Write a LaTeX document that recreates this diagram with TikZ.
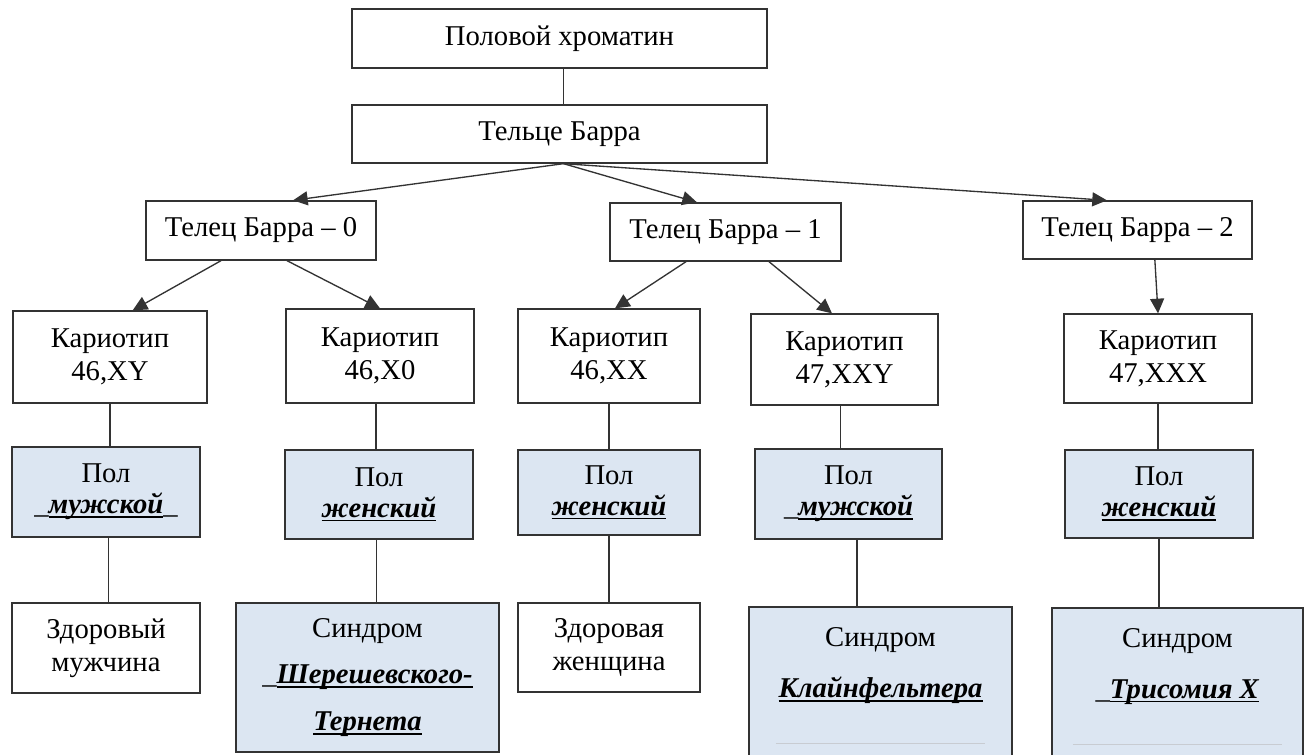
\documentclass[tikz,border=0pt]{standalone}
\usepackage{fontspec}
\setmainfont{Liberation Serif}
\usetikzlibrary{arrows.meta}
\definecolor{boxblue}{HTML}{DCE6F2}
\definecolor{edgec}{HTML}{333333}
\definecolor{blankline}{HTML}{C8CCD2}
\newcommand{\bi}[1]{\setbox0\hbox{\textbf{\textit{#1}}}\rlap{\raisebox{-3.2pt}{\rule{\wd0}{1.3pt}}}\box0}
\begin{document}
\begin{tikzpicture}[x=0.75pt,y=-0.75pt,
  box/.style={draw=edgec, line width=1pt, fill=white, align=center, inner sep=0pt,
    font=\fontsize{21.5}{25}\selectfont, text=black},
  bluebox/.style={box, fill=boxblue},
  sz/.style 2 args={minimum width=#1*0.75pt, minimum height=#2*0.75pt},
  conn/.style={draw=edgec, line width=1pt},
  arr/.style={conn, -{Triangle[length=11pt,width=10.5pt]}}
]
\useasboundingbox (0,0) rectangle (1308,754);
\fill[white] (0,0) rectangle (1308,754);

\node[box, sz={415}{59}] (A) at (559.5,38.5) {Половой хроматин};
\node[box, sz={415}{58}] (B) at (559.5,134) {Тельце Барра};

\node[box, sz={230}{59}] (T0) at (261,230.5) {Телец Барра – 0};
\node[box, sz={231}{58}] (T1) at (725.5,232) {Телец Барра – 1};
\node[box, sz={229}{58}] (T2) at (1137.5,230) {Телец Барра – 2};

\node[box, sz={194}{92}] (K1) at (110,357) {Кариотип\\46,XY};
\node[box, sz={188}{94}] (K2) at (380,356) {Кариотип\\46,X0};
\node[box, sz={182}{94}] (K3) at (609,356) {Кариотип\\46,XX};
\node[box, sz={187}{91}] (K4) at (844.5,359.5) {Кариотип\\47,XXY};
\node[box, sz={188}{89}] (K5) at (1158,358.5) {Кариотип\\47,XXX};

\node[bluebox, sz={188}{90}] (P1) at (106,492) {Пол\\[-2pt]\_\bi{мужской}\_};
\node[bluebox, sz={188}{89}] (P2) at (379,494.5) {Пол\\[-2pt]\bi{женский}};
\node[bluebox, sz={182}{85}] (P3) at (609,492.5) {Пол\\[-2pt]\bi{женский}};
\node[bluebox, sz={187}{90}] (P4) at (848.5,494) {Пол\\[-2pt]\_\bi{мужской}};
\node[bluebox, sz={188}{88}] (P5) at (1159,494) {Пол\\[-2pt]\bi{женский}};

\node[box, sz={188}{90}] (D1) at (106,648) {Здоровый\\мужчина};
\node[bluebox, sz={263}{149}] (D2) at (367.5,677.5) {Синдром\\[10pt]\_\bi{Шерешевского-}\\[10pt]\bi{Тернета}};
\node[box, sz={182}{89}] (D3) at (609,647.5) {Здоровая\\женщина};
\node[bluebox, sz={263}{158}] (D4) at (880.5,686) {Синдром\\[13pt]\bi{Клайнфельтера}\\[10pt]\textcolor{blankline}{\rule{157pt}{0.75pt}}};
\node[bluebox, sz={251}{157}] (D5) at (1177.5,686.5) {Синдром\\[13pt]\_\bi{Трисомия X}\\[10pt]\textcolor{blankline}{\rule{157pt}{0.75pt}}};

\draw[conn] ([xshift=3pt]A.south) -- ([xshift=3pt]B.north);
\draw[arr] ([xshift=3pt]B.south) -- ([xshift=24pt]T0.north);
\draw[arr] ([xshift=3pt]B.south) -- ([xshift=-21.4pt]T1.north);
\draw[arr] ([xshift=3pt]B.south) -- ([xshift=-22.9pt]T2.north);

\draw[arr] ([xshift=-30pt]T0.south) -- ([xshift=17pt]K1.north);
\draw[arr] ([xshift=19.5pt]T0.south) -- (K2.north);
\draw[arr] ([xshift=-29.6pt]T1.south) -- ([xshift=4.5pt]K3.north);
\draw[arr] ([xshift=32.6pt]T1.south) -- ([xshift=-9.4pt]K4.north);
\draw[arr] ([xshift=13pt]T2.south) -- (K5.north);

\draw[conn] (K1.south) -- (K1.south |- P1.north);
\draw[conn] ([xshift=-3pt]K2.south) -- ([xshift=-3pt]K2.south |- P2.north);
\draw[conn] (K3.south) -- (K3.south |- P3.north);
\draw[conn] ([xshift=-3pt]K4.south) -- ([xshift=-3pt]K4.south |- P4.north);
\draw[conn] (K5.south) -- (K5.south |- P5.north);

\draw[conn] ([xshift=2pt]P1.south) -- ([xshift=2pt]P1.south |- D1.north);
\draw[conn] ([xshift=-2pt]P2.south) -- ([xshift=-2pt]P2.south |- D2.north);
\draw[conn] (P3.south) -- (P3.south |- D3.north);
\draw[conn] ([xshift=6.4pt]P4.south) -- ([xshift=6.4pt]P4.south |- D4.north);
\draw[conn] (P5.south) -- (P5.south |- D5.north);
\end{tikzpicture}
\end{document}
